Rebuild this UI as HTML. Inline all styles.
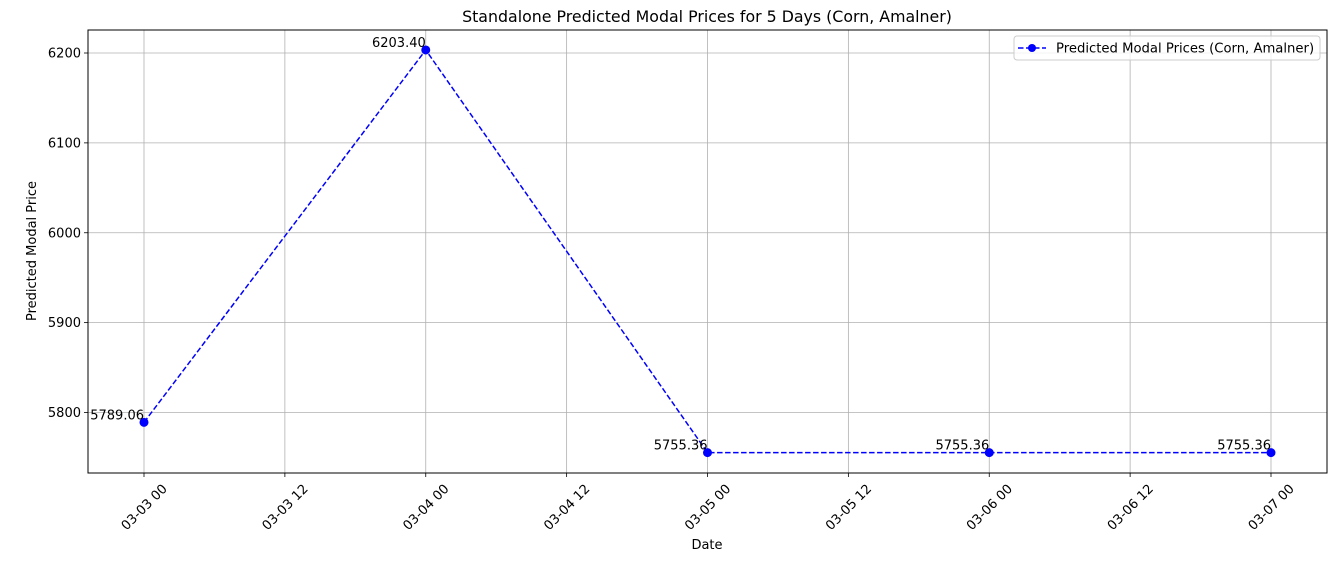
<!DOCTYPE html>
<html><head><meta charset="utf-8"><style>
body{margin:0;background:#fff}
svg text{font-family:"DejaVu Sans","Liberation Sans",sans-serif;fill:#000}
</style></head><body>
<svg id="chart" width="1336" height="568" xmlns="http://www.w3.org/2000/svg">
<rect width="1336" height="568" fill="#fff"/>
<g id="grid"></g>
<g id="axes"></g>
<g id="series"></g>
<text x="707" y="22" text-anchor="middle" font-size="15.8">Standalone Predicted Modal Prices for 5 Days (Corn, Amalner)</text>
<text x="707" y="549" text-anchor="middle" font-size="13">Date</text>
<text transform="translate(36,251) rotate(-90)" text-anchor="middle" font-size="13">Predicted Modal Price</text>
<g>
<rect x="1014" y="36" width="306" height="24" rx="3" fill="#fff" fill-opacity="0.8" stroke="#ccc"/>
<line x1="1018" y1="48" x2="1046" y2="48" stroke="#0000ff" stroke-width="1.5" stroke-dasharray="5.5,2.5"/>
<circle cx="1032" cy="48" r="4" fill="#0000ff"/>
<text x="1056" y="52.5" font-size="13.2">Predicted Modal Prices (Corn, Amalner)</text>
</g>
</svg>
<script>
const dayOffsets=[0,1,2,3,4];
const prices=[5789.06,6203.40,5755.36,5755.36,5755.36];
const priceLabels=["5789.06","6203.40","5755.36","5755.36","5755.36"];
const yTicks=[5800,5900,6000,6100,6200];
const xTicks=[0,0.5,1,1.5,2,2.5,3,3.5,4];
const xTickLabels=["03-03 00","03-03 12","03-04 00","03-04 12","03-05 00","03-05 12","03-06 00","03-06 12","03-07 00"];
const L=88,R=1327,T=30,B=473;
const xs=d=>144+d*281.75;
const ys=v=>412.5-(v-5800)*0.89875;
const NS="http://www.w3.org/2000/svg";
function mk(tag,attrs,parent){const e=document.createElementNS(NS,tag);for(const k in attrs)e.setAttribute(k,attrs[k]);parent.appendChild(e);return e;}
const grid=document.getElementById('grid'),axes=document.getElementById('axes'),ser=document.getElementById('series');
xTicks.forEach((d,i)=>{const x=xs(d);
 const g=mk('line',{x1:x,x2:x,y1:T,y2:B,stroke:'#b0b0b0','stroke-width':0.8},grid);
 
 
 mk('line',{x1:x,x2:x,y1:B,y2:B+4,stroke:'#000','stroke-width':0.8},axes);
 const t=mk('text',{x:0,y:4.5,'font-size':13,'text-anchor':'middle',transform:`translate(${x},${B+34}) rotate(-45)`},axes);
 t.textContent=xTickLabels[i];
 
 
});
yTicks.forEach(v=>{const y=ys(v);
 const g=mk('line',{x1:L,x2:R,y1:y,y2:y,stroke:'#b0b0b0','stroke-width':0.8},grid);
 
 
 mk('line',{x1:L-4,x2:L,y1:y,y2:y,stroke:'#000','stroke-width':0.8},axes);
 const t=mk('text',{x:L-7,y:y+4.5,'font-size':13,'text-anchor':'end'},axes);
 t.textContent=v;
 
 
});
const fr=mk('rect',{x:L,y:T,width:R-L,height:B-T,fill:'none',stroke:'#000','stroke-width':1},axes);


const pts=dayOffsets.map((d,i)=>xs(d)+','+ys(prices[i])).join(' ');
const pl=mk('polyline',{points:pts,fill:'none',stroke:'#0000ff','stroke-width':1.5,'stroke-dasharray':'5.5,2.5'},ser);


dayOffsets.forEach((d,i)=>{
 const c=mk('circle',{cx:xs(d),cy:ys(prices[i]),r:4.5,fill:'#0000ff'},ser);
 
 
 const t=mk('text',{x:xs(d),y:ys(prices[i])-3,'font-size':13,'text-anchor':'end'},ser);
 t.textContent=priceLabels[i];
 
 
});
</script>
</body></html>
